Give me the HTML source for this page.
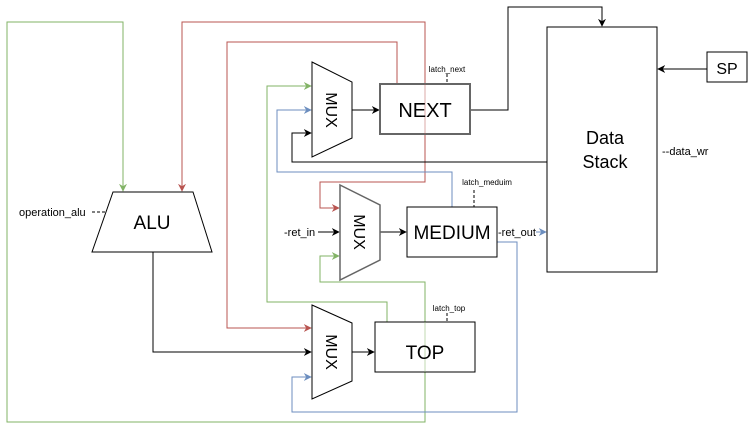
<!DOCTYPE html>
<html><head><meta charset="utf-8"><style>html,body{margin:0;padding:0;background:#fff}svg{display:block}</style></head>
<body>
<svg width="748" height="431" viewBox="0 0 748 431" xmlns="http://www.w3.org/2000/svg" font-family="Liberation Sans, Arial, sans-serif">
<defs>
<marker id="ak" viewBox="0 0 10 10" refX="9" refY="5" markerWidth="8" markerHeight="8" orient="auto" markerUnits="userSpaceOnUse"><path d="M0,0 L10,5 L0,10 L3,5 z" fill="#000"/></marker>
<marker id="ar" viewBox="0 0 10 10" refX="9" refY="5" markerWidth="8" markerHeight="8" orient="auto" markerUnits="userSpaceOnUse"><path d="M0,0 L10,5 L0,10 L3,5 z" fill="#b85450"/></marker>
<marker id="ag" viewBox="0 0 10 10" refX="9" refY="5" markerWidth="8" markerHeight="8" orient="auto" markerUnits="userSpaceOnUse"><path d="M0,0 L10,5 L0,10 L3,5 z" fill="#82b366"/></marker>
<marker id="ab" viewBox="0 0 10 10" refX="9" refY="5" markerWidth="8" markerHeight="8" orient="auto" markerUnits="userSpaceOnUse"><path d="M0,0 L10,5 L0,10 L3,5 z" fill="#6c8ebf"/></marker>
</defs>
<g fill="none" stroke-width="1">
<path d="M425,372 V422 H7 V22 H123 V191" stroke="#82b366" marker-end="url(#ag)"/>
<path d="M425,322 V282 H320 V256 H339" stroke="#82b366" marker-end="url(#ag)"/>
<path d="M387,322 V302 H267 V86 H311" stroke="#82b366" marker-end="url(#ag)"/>
<path d="M425,84 V22 H182 V191" stroke="#b85450" marker-end="url(#ar)"/>
<path d="M397,84 V42 H227 V328 H311" stroke="#b85450" marker-end="url(#ar)"/>
<path d="M425,134 V182 H320 V208 H339" stroke="#b85450" marker-end="url(#ar)"/>
<path d="M452,207 V172 H277 V110 H311" stroke="#6c8ebf" marker-end="url(#ab)"/>
<path d="M497,242 H517 V412 H292 V377 H311" stroke="#6c8ebf" marker-end="url(#ab)"/>
<path d="M536,232 H546" stroke="#6c8ebf" marker-end="url(#ab)"/>
<path d="M547,162 H292 V133 H311" stroke="#000" marker-end="url(#ak)"/>
<path d="M352,110 H379" stroke="#000" marker-end="url(#ak)"/>
<path d="M470,110 H508 V7 H602 V26" stroke="#000" marker-end="url(#ak)"/>
<path d="M707,69 H658" stroke="#000" marker-end="url(#ak)"/>
<path d="M318,232 H339" stroke="#000" marker-end="url(#ak)"/>
<path d="M380,232 H406" stroke="#000" marker-end="url(#ak)"/>
<path d="M153,252 V352 H311" stroke="#000" marker-end="url(#ak)"/>
<path d="M352,352 H374" stroke="#000" marker-end="url(#ak)"/>
<path d="M447,74 V84 M474,190 V207 M447,313 V322 M92,212 H106" stroke="#000" stroke-dasharray="3,2"/>
</g>
<g stroke="#000" fill="#fff" stroke-width="1">
<polygon points="113,192 193,192 212,252 92,252"/>
<polygon points="312,62 352,82 352,138 312,157"/>
<polygon points="340,185 380,205 380,260 340,280" stroke="#666" stroke-width="1.5"/>
<polygon points="312,305 352,323 352,381 312,399"/>
<rect x="380" y="84" width="90" height="50" stroke="#666" stroke-width="2"/>
<rect x="407" y="207" width="90" height="50"/>
<rect x="375" y="322" width="100" height="50"/>
<rect x="547" y="27" width="110" height="245"/>
<rect x="707" y="52" width="40" height="30"/>
</g>
<path d="M425,322 V372" stroke="#82b366" stroke-opacity="0.5" fill="none"/>
<path d="M425,84 V134" stroke="#b85450" stroke-opacity="0.5" fill="none"/>
<g fill="#000" text-anchor="middle">
<text x="152" y="229" font-size="19">ALU</text>
<text x="425" y="117" font-size="20">NEXT</text>
<text x="452" y="239" font-size="19">MEDIUM</text>
<text x="425" y="359" font-size="19">TOP</text>
<text x="605" y="144" font-size="18">Data</text>
<text x="605" y="168" font-size="18">Stack</text>
<text x="727" y="74" font-size="16">SP</text>
<text transform="translate(332,110) rotate(90)" font-size="16" dy="6">MUX</text>
<text transform="translate(360,232) rotate(90)" font-size="16" dy="6">MUX</text>
<text transform="translate(332,352) rotate(90)" font-size="16" dy="6">MUX</text>
<text x="447" y="72" font-size="8">latch_next</text>
<text x="487" y="185" font-size="8">latch_meduim</text>
<text x="449" y="311" font-size="8">latch_top</text>
</g>
<g fill="#000" font-size="11">
<text x="19" y="216">operation_alu</text>
<text x="284" y="236">-ret_in</text>
<text x="498" y="236">-ret_out</text>
<text x="662" y="155">--data_wr</text>
</g>
</svg>
</body></html>
